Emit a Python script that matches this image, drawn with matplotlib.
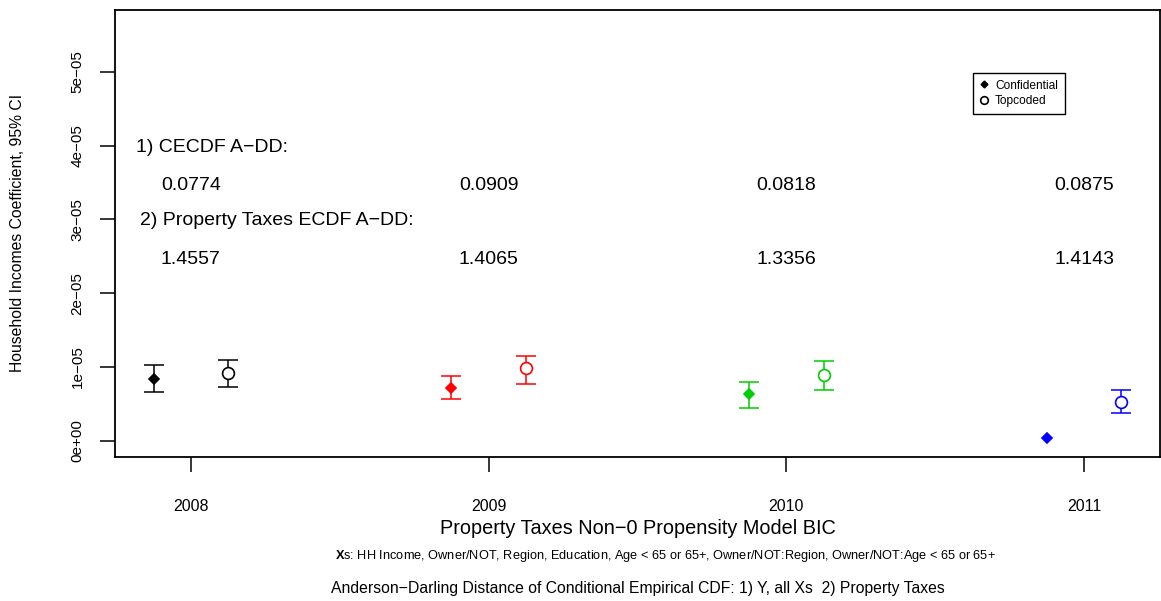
import numpy as np
import matplotlib
matplotlib.use("Agg")
import matplotlib.pyplot as plt
from matplotlib.lines import Line2D

plt.rcParams['font.family'] = ['Liberation Sans', 'DejaVu Sans']
plt.rcParams['mathtext.fontset'] = 'custom'
plt.rcParams['mathtext.rm'] = 'Liberation Sans'
plt.rcParams['mathtext.bf'] = 'Liberation Sans:bold'

# ── Data (coefficients in units of 1e-5) ───────────────────────────────────
years   = [2008, 2009, 2010, 2011]
colors  = ['#000000', '#FF0000', '#00CD00', '#0000FF']
offset  = 0.125

conf_mid = [0.84, 0.72, 0.64, 0.04]
conf_lo  = [0.66, 0.57, 0.45, 0.04]
conf_hi  = [1.03, 0.88, 0.80, 0.04]

top_mid  = [0.92, 0.98, 0.89, 0.53]
top_lo   = [0.73, 0.77, 0.69, 0.38]
top_hi   = [1.10, 1.15, 1.08, 0.69]

cecdf_add = ['0.0774', '0.0909', '0.0818', '0.0875']
ptax_add  = ['1.4557', '1.4065', '1.3356', '1.4143']

SCALE = 1e-5
yticks = [0, 1, 2, 3, 4, 5]
ytick_labels = ['0e+00', '1e\u221205', '2e\u221205', '3e\u221205', '4e\u221205', '5e\u221205']

# ── Plot ───────────────────────────────────────────────────────────────────
fig = plt.figure(figsize=(11.61, 6.01), dpi=100)
ax = fig.add_axes([115/1161, 1 - 457/601, (1160 - 115)/1161, (457 - 10)/601])

def draw(xs, mid, lo, hi, col, marker, ms, fill):
    if hi > lo:
        ax.errorbar([xs], [mid * SCALE], yerr=[[(mid - lo) * SCALE], [(hi - mid) * SCALE]],
                    fmt='none', ecolor=col, elinewidth=1.1, capsize=7.5, capthick=1.1, zorder=2)
    ax.plot([xs], [mid * SCALE], marker=marker, ms=ms, color=col,
            mfc=col if fill else 'white', mec=col, mew=1.2, ls='none', zorder=3)

for i, yr in enumerate(years):
    draw(yr - offset, conf_mid[i], conf_lo[i], conf_hi[i], colors[i], 'D', 5.5, True)
    draw(yr + offset, top_mid[i], top_lo[i], top_hi[i], colors[i], 'o', 8.5, False)

ax.set_xlim(2007.745, 2011.255)
ax.set_ylim(-0.22 * SCALE, 5.84 * SCALE)

ax.set_xticks(years)
ax.set_xticklabels([str(y) for y in years], fontsize=11.5)
ax.set_yticks([t * SCALE for t in yticks])
ax.set_yticklabels(ytick_labels, fontsize=11, rotation=90, va='center')
ax.tick_params(axis='x', length=11, width=1.1, pad=19)
ax.tick_params(axis='y', length=11, width=1.1, pad=11)
for sp in ax.spines.values():
    sp.set_linewidth(1.3)

# annotation text
ax.text(2007.815, 3.98 * SCALE, '1) CECDF A\u2212DD:', fontsize=14, ha='left', va='center')
ax.text(2007.829, 2.98 * SCALE, '2) Property Taxes ECDF A\u2212DD:', fontsize=14, ha='left', va='center')
for i, yr in enumerate(years):
    ax.text(yr, 3.46 * SCALE, cecdf_add[i], fontsize=14, ha='center', va='center')
    ax.text(yr, 2.46 * SCALE, ptax_add[i], fontsize=14, ha='center', va='center')

# legend
handles = [
    Line2D([], [], marker='D', ms=3.5, color='black', ls='none'),
    Line2D([], [], marker='o', ms=5.5, mfc='white', mec='black', mew=1.2, color='black', ls='none'),
]
leg = ax.legend(handles, ['Confidential', 'Topcoded'], loc='upper left',
                bbox_to_anchor=(973/1161, 1 - 73/601), bbox_transform=fig.transFigure,
                fontsize=8.6, frameon=True, fancybox=False, edgecolor='black',
                framealpha=1, handlelength=0.8, handletextpad=0.5,
                borderpad=0.55, labelspacing=0.3, borderaxespad=0)
leg.get_frame().set_linewidth(1.0)

# axis titles
fig.text(18/1161, 1 - 233/601, 'Household Incomes Coefficient, 95% CI',
         rotation=90, fontsize=11.3, ha='center', va='center')
fig.text(638/1161, 1 - 529/601, 'Property Taxes Non\u22120 Propensity Model BIC',
         fontsize=14.3, ha='center', va='center')
fig.text(665/1161, 1 - 556/601,
         r'$\mathbf{X}$s: HH Income, Owner/NOT, Region, Education, Age < 65 or 65+, '
         'Owner/NOT:Region, Owner/NOT:Age < 65 or 65+',
         fontsize=9.2, ha='center', va='center')
fig.text(638/1161, 1 - 589/601,
         'Anderson\u2212Darling Distance of Conditional Empirical CDF: 1) Y, all Xs  2) Property Taxes',
         fontsize=11.3, ha='center', va='center')

fig.savefig('out.png', dpi=100)
